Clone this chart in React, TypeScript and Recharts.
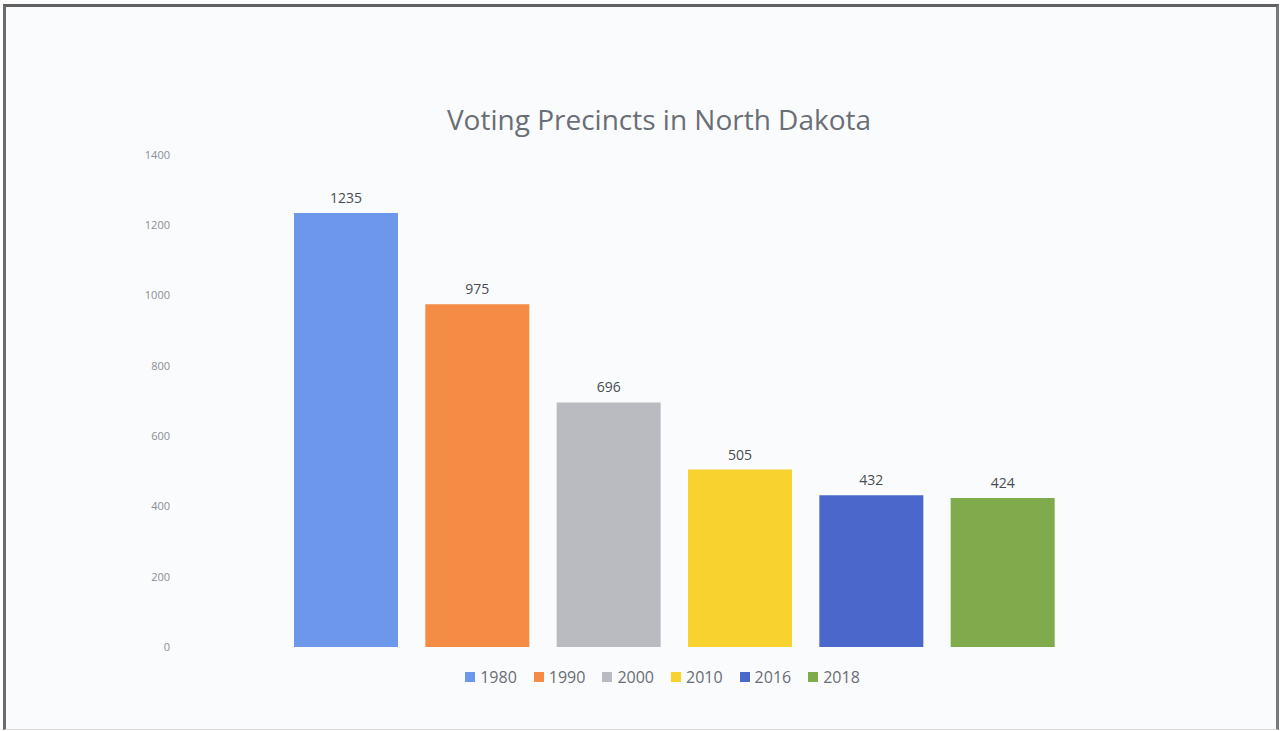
import React from 'react';
import { BarChart, Bar, XAxis, YAxis, Cell, LabelList, Legend } from 'recharts';

const years = ['1980', '1990', '2000', '2010', '2016', '2018'];
const precincts = [1235, 975, 696, 505, 432, 424];
const colors = ['#6d97ea', '#f58c45', '#b9bbc0', '#f8d330', '#4a68cc', '#80ab4c'];
const yTicks = [0, 200, 400, 600, 800, 1000, 1200, 1400];
const title = 'Voting Precincts in North Dakota';

const data = years.map((y, i) => ({ year: y, value: precincts[i] }));

const FONT = '"Open Sans", "Noto Sans", sans-serif';

function LegendContent() {
  return (
    <div style={{ display: 'flex', justifyContent: 'center', alignItems: 'center', height: 30, fontFamily: FONT, fontSize: 16, color: '#6a6d75' }}>
      {years.map((y, i) => (
        <div key={y} style={{ display: 'flex', alignItems: 'center', marginRight: i < years.length - 1 ? 17 : 0 }}>
          <span style={{ display: 'inline-block', width: 10, height: 10, background: colors[i], marginRight: 5 }} />
          <span>{y}</span>
        </div>
      ))}
    </div>
  );
}

export default function App() {
  return (
    <div style={{ position: 'absolute', left: 0, top: 0, width: 1280, height: 731, background: '#ffffff' }}>
      <div
        style={{
          position: 'absolute',
          left: 3,
          top: 4,
          width: 1270,
          height: 722,
          background: '#f9fbfc',
          borderTop: '3px solid #5f6062',
          borderLeft: '3px solid #6a6b6d',
          borderRight: '3px solid #77797b',
          borderBottom: '1px solid #d8dadc',
        }}
      />
      <div
        style={{
          position: 'absolute',
          left: 0,
          top: 99,
          width: 1318,
          textAlign: 'center',
          fontFamily: FONT,
          fontSize: 28,
          color: '#6b6e76',
          lineHeight: '40px',
        }}
      >
        {title}
      </div>
      <div style={{ position: 'absolute', left: 0, top: 0 }}>
        <BarChart
          width={1280}
          height={731}
          data={data}
          margin={{ top: 155, right: 212, bottom: 54, left: 170 }}
          barSize={104}
        >
          <XAxis dataKey="year" hide />
          <YAxis
            domain={[0, 1400]}
            ticks={yTicks}
            width={110}
            axisLine={false}
            tickLine={false}
            tickMargin={104}
            tick={{ fontSize: 11, fill: '#8a8e96', fontFamily: FONT }}
          />
          <Legend verticalAlign="bottom" wrapperStyle={{ top: 662, left: 0, width: 1325, height: 30 }} content={<LegendContent />} />
          <Bar dataKey="value" isAnimationActive={false}>
            {data.map((d, i) => (
              <Cell key={d.year} fill={colors[i]} />
            ))}
            <LabelList dataKey="value" position="top" offset={10} style={{ fontSize: 14, fill: '#4a4c52', fontFamily: FONT }} />
          </Bar>
        </BarChart>
      </div>
    </div>
  );
}
